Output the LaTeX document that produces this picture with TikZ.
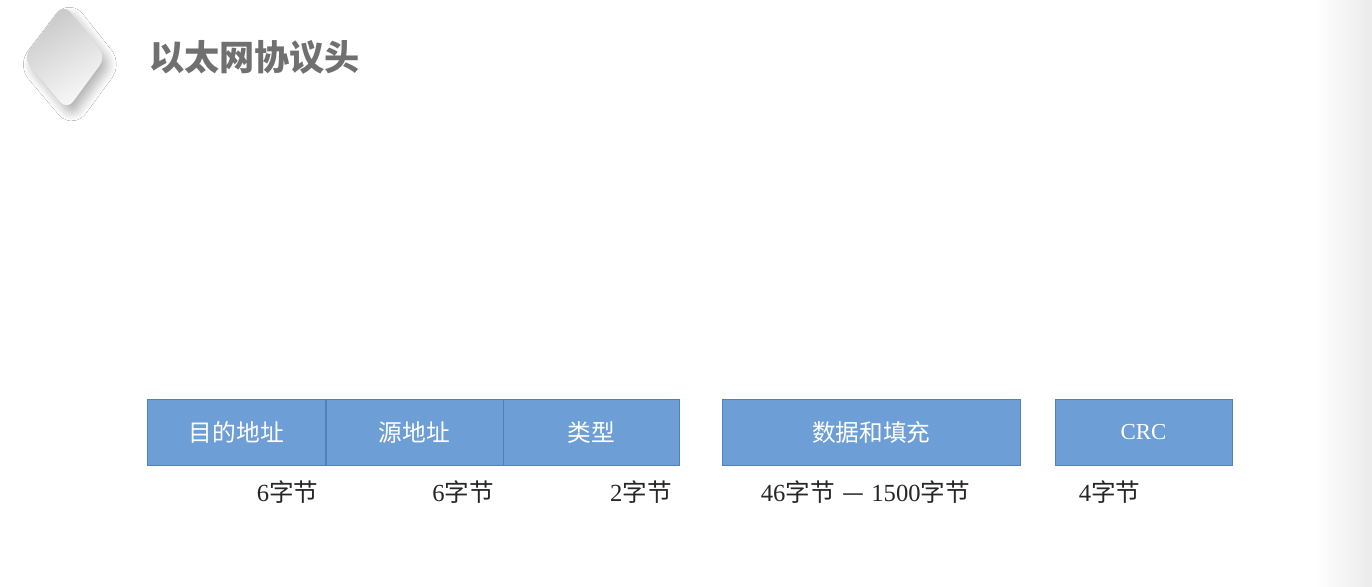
\documentclass[tikz,border=0pt]{standalone}
\usepackage{fontspec}
\setmainfont{Liberation Serif}
\newfontfamily\cjk{Noto Sans CJK SC}
\usetikzlibrary{positioning,shadows.blur}
\definecolor{fieldblue}{RGB}{110,158,214}
\definecolor{fieldedge}{RGB}{84,128,182}
\definecolor{titlegray}{RGB}{112,112,112}
\newcommand{\nbytes}[1]{#1{\cjk 字节}}
\begin{document}
\begin{tikzpicture}[x=0.02cm, y=-0.02cm,
    field/.style={draw=fieldedge, fill=fieldblue, minimum height=1.32cm, inner sep=0pt,
      text=white, font=\cjk\fontsize{13.5}{16}\selectfont},
    size/.style={font=\fontsize{14}{16}\selectfont, text=black!85, inner sep=0pt}]
  \useasboundingbox (0,0) rectangle (1372,586);
  \fill[white] (0,0) rectangle (1372,586);
  \shade[left color=white, right color=black!8] (1315,0) rectangle (1372,586);
  % title mark
  \shade[top color=black!22, bottom color=black!2, shading angle=30, rounded corners=6pt,
    blur shadow={shadow xshift=3pt, shadow yshift=-4pt, shadow blur steps=12, shadow blur radius=5pt, shadow opacity=30}]
    (64,4) -- (106,57) -- (67,110) -- (23,58) -- cycle;
  \node[anchor=west, text=titlegray, font=\cjk\bfseries\fontsize{20}{24}\selectfont] (title) at (143,57) {以太网协议头};
  % frame fields
  \node[field, minimum width=3.56cm, anchor=north west] (dst) at (147,399) {目的地址};
  \node[field, minimum width=3.54cm, right=0pt of dst] (src) {源地址};
  \node[field, minimum width=3.52cm, right=0pt of src] (type) {类型};
  \node[field, minimum width=5.96cm, right=0.84cm of type] (data) {数据和填充};
  \node[field, minimum width=3.54cm, right=0.68cm of data, font=\fontsize{13}{15}\selectfont] (crc) {CRC};
  % sizes
  \node[size, anchor=east] (dstlen) at ([xshift=-0.14cm, yshift=-0.52cm]dst.south east) {\nbytes{6}};
  \node[size, anchor=east] (srclen) at ([xshift=-0.18cm, yshift=-0.52cm]src.south east) {\nbytes{6}};
  \node[size, anchor=east] (typelen) at ([xshift=-0.16cm, yshift=-0.52cm]type.south east) {\nbytes{2}};
  \node[size] (datalen) at ([xshift=-0.12cm, yshift=-0.52cm]data.south) {\nbytes{46}\hspace{0.3em}{\cjk —}\hspace{0.3em}\nbytes{1500}};
  \node[size, anchor=west] (crclen) at ([xshift=0.48cm, yshift=-0.52cm]crc.south west) {\nbytes{4}};
\end{tikzpicture}
\end{document}
